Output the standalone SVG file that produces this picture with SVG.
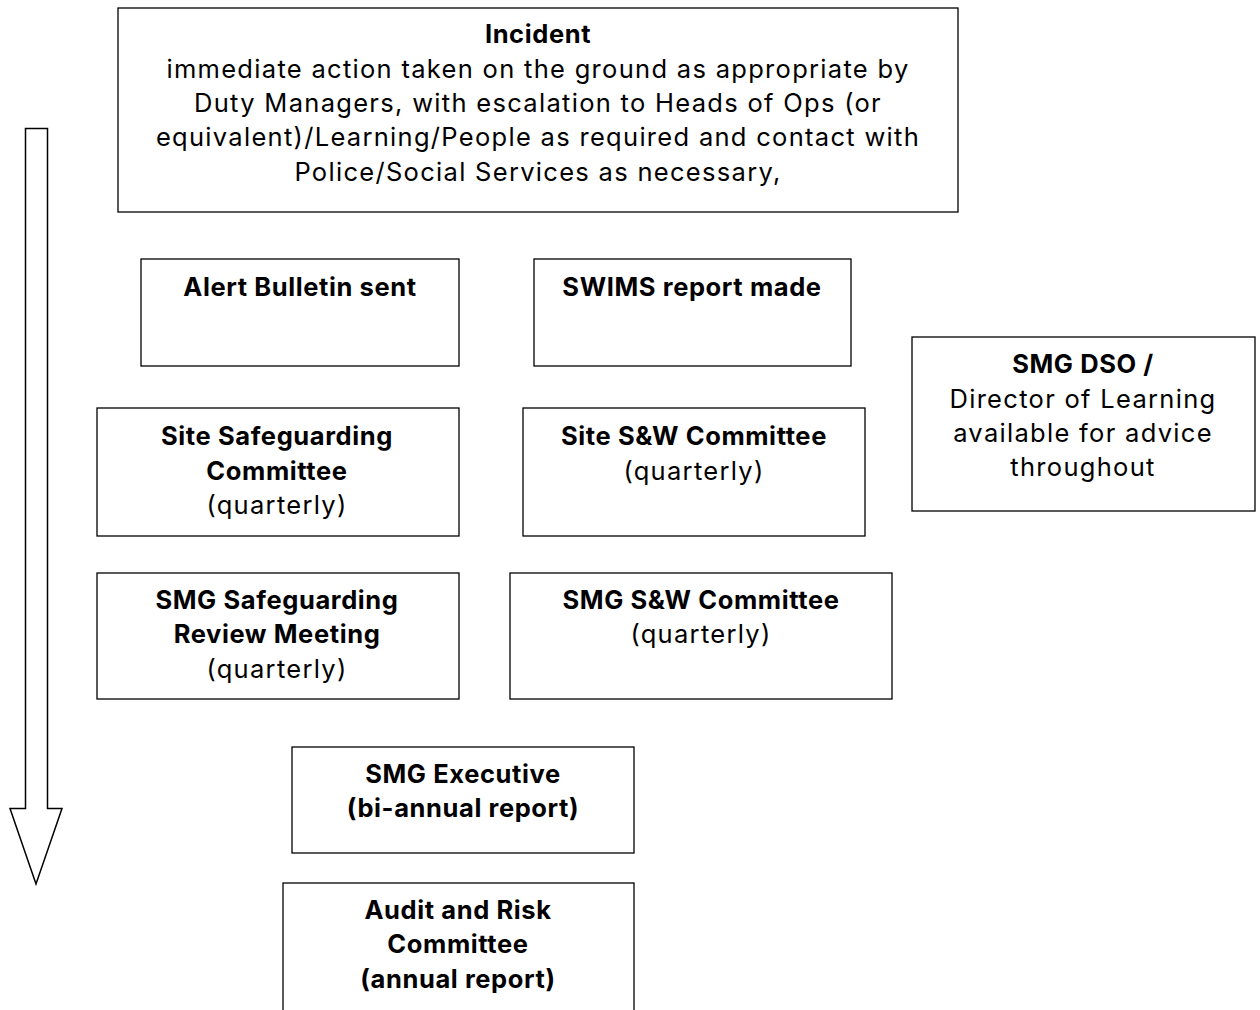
<svg xmlns="http://www.w3.org/2000/svg" width="1260" height="1010" viewBox="0 0 1260 1010">
<style>
.box{fill:#fff;stroke:#000;stroke-width:1.3}
text{font-family:Inter,Roboto,"Liberation Sans",sans-serif;font-size:25.5px;letter-spacing:1.3px;fill:#000;text-anchor:middle}
.b{font-weight:bold;letter-spacing:0.6px}
</style>
<rect width="1260" height="1010" fill="#fff"/>
<g id="connectors">
<path d="M25.5,128.5 H47.5 V808.5 H62 L36,884 L10,808.5 H25.5 Z" fill="#fff" stroke="#000" stroke-width="1.5"/>
</g>
<g id="incident">
<rect class="box" x="118" y="8" width="840" height="204"/>
<text x="538" y="43" class="b">Incident</text>
<text x="538" y="78">immediate action taken on the ground as appropriate by</text>
<text x="538" y="112">Duty Managers, with escalation to Heads of Ops (or</text>
<text x="538" y="146">equivalent)/Learning/People as required and contact with</text>
<text x="538" y="181">Police/Social Services as necessary,</text>
</g>
<g id="alert">
<rect class="box" x="141" y="259" width="318" height="107"/>
<text x="300" y="296" class="b">Alert Bulletin sent</text>
</g>
<g id="swims">
<rect class="box" x="534" y="259" width="317" height="107"/>
<text x="692" y="296" class="b">SWIMS report made</text>
</g>
<g id="dso">
<rect class="box" x="912" y="337" width="343" height="174"/>
<text x="1083" y="373" class="b">SMG DSO /</text>
<text x="1083" y="408">Director of Learning</text>
<text x="1083" y="442">available for advice</text>
<text x="1083" y="476">throughout</text>
</g>
<g id="site-safeguarding">
<rect class="box" x="97" y="408" width="362" height="128"/>
<text x="277" y="445" class="b">Site Safeguarding</text>
<text x="277" y="480" class="b">Committee</text>
<text x="277" y="514">(quarterly)</text>
</g>
<g id="site-sw">
<rect class="box" x="523" y="408" width="342" height="128"/>
<text x="694" y="445" class="b">Site S&amp;W Committee</text>
<text x="694" y="480">(quarterly)</text>
</g>
<g id="smg-safeguarding">
<rect class="box" x="97" y="573" width="362" height="126"/>
<text x="277" y="609" class="b">SMG Safeguarding</text>
<text x="277" y="643" class="b">Review Meeting</text>
<text x="277" y="678">(quarterly)</text>
</g>
<g id="smg-sw">
<rect class="box" x="510" y="573" width="382" height="126"/>
<text x="701" y="609" class="b">SMG S&amp;W Committee</text>
<text x="701" y="643">(quarterly)</text>
</g>
<g id="smg-exec">
<rect class="box" x="292" y="747" width="342" height="106"/>
<text x="463" y="783" class="b">SMG Executive</text>
<text x="463" y="817" class="b">(bi-annual report)</text>
</g>
<g id="audit">
<rect class="box" x="283" y="883" width="351" height="140"/>
<text x="458" y="919" class="b">Audit and Risk</text>
<text x="458" y="953" class="b">Committee</text>
<text x="458" y="988" class="b">(annual report)</text>
</g>
</svg>
